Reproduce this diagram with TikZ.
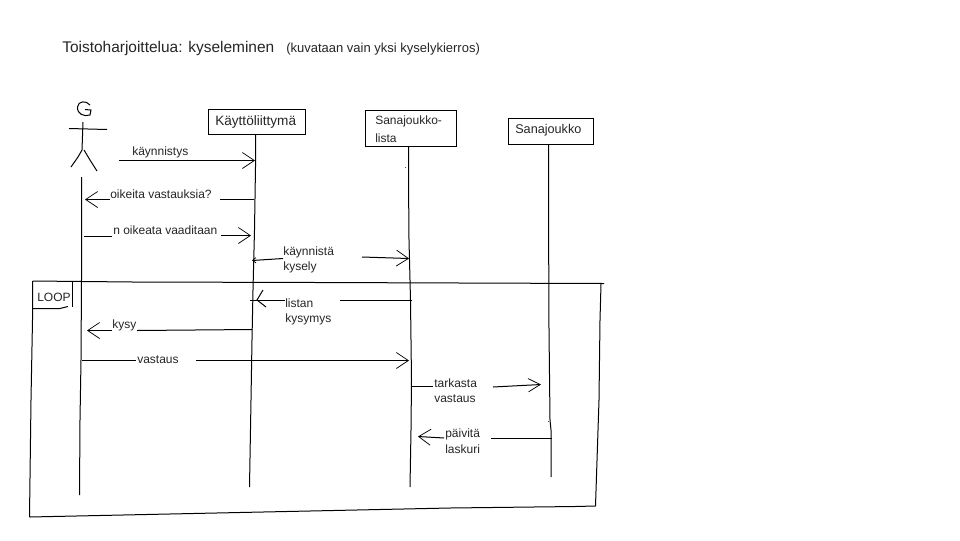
\documentclass[tikz,border=0pt]{standalone}
\usepackage{fontspec}
\setmainfont{Liberation Sans}
\usetikzlibrary{arrows.meta}
\tikzset{
  px/.style={x=0.75pt,y=-0.75pt},
  ink/.style={draw=black,line width=0.75pt},
  obj/.style={draw=black,line width=0.75pt,fill=white,inner sep=0pt,minimum height=0pt},
  lbl/.style={anchor=west,inner sep=0pt,font=\fontsize{9}{10.8}\selectfont,text=black!85},
  tip/.style={-{Straight Barb[length=9pt,width=12pt,line width=0.55pt]},ink},
  tipsmall/.style={-{Straight Barb[length=2.5pt,width=4pt,line width=0.55pt]},ink}
}
\begin{document}
\begin{tikzpicture}[px]
\useasboundingbox (0,0) rectangle (960,540);
\fill[white] (0,0) rectangle (960,540);
% title
\node[anchor=west,inner sep=0pt,font=\fontsize{11.6}{14}\selectfont,text=black!85] (title) at (62,48) {Toistoharjoittelua: kyseleminen};
\node[lbl,font=\fontsize{9.75}{11}\selectfont] (subtitle) at (286,49.5) {(kuvataan vain yksi kyselykierros)};
% objects
\node[obj,minimum width=72.75pt,minimum height=18.75pt] (ui) at (256.5,121.5) {};
\node[lbl,font=\fontsize{10.2}{12}\selectfont] (uit) at (215,121.5) {Käyttöliittymä};
\node[obj,minimum width=68.25pt,minimum height=27pt] (list) at (410.5,128) {};
\node[lbl] (listt1) at (375,121.5) {Sanajoukko-};
\node[lbl] (listt2) at (375,138) {lista};
\node[obj,minimum width=63.75pt,minimum height=19.5pt] (set) at (550.5,131) {};
\node[lbl,font=\fontsize{9.5}{11}\selectfont] (sett) at (515,130.5) {Sanajoukko};
% actor
\draw[ink] (90,105) .. controls (86,100) and (78,101) .. (77.5,107) .. controls (77,114) and (84,117) .. (90,115) -- (91,110) -- (85,109.5);
\coordinate (neck) at (83,122);
\coordinate (hip) at (82,150);
\draw[ink] (neck) -- (hip);
\draw[ink] (69,128.5) -- (107,129.5);
\draw[ink] (hip) -- (78,157) -- (71,167);
\draw[ink] (84,150) -- (90,160) -- (97,171);
% coordinates of lifelines
\coordinate (actortop) at (81.5,177);
\coordinate (actorbot) at (79.5,495);
\coordinate (uibot) at (249.5,487);
\coordinate (listbot) at (410,487);
\coordinate (setbot) at (551,477);
% lifelines
\draw[ink] (actortop) -- (81.5,280) -- (81,360) -- (80,420) -- (actorbot);
\draw[ink] (ui.south -| 255.5,0) -- (255.5,167) -- (254.5,230) -- (253,290) -- (252,340) -- (251,400) -- (uibot);
\draw[ink] (list.south -| 408.5,0) -- (408.5,178) -- (409,240) -- (410.5,300) -- (411.5,380) -- (411,430) -- (listbot);
\draw[ink] (set.south -| 548.5,0) -- (548.5,203) -- (549,330) -- (550,420) -- (551,430) -- (setbot);
% stray dots
\fill[black!70] (404.5,166.5) rectangle (405.5,167.5);
\fill[black!70] (547.5,420.5) rectangle (548.5,421.5);
% frame
\coordinate (fa) at (32.5,281);
\coordinate (fb) at (604,283.5);
\coordinate (fc) at (595.5,506);
\coordinate (fd) at (29.5,517);
\draw[ink] (fa) -- (133,282) -- (318,282.5) -- (fb);
\draw[ink] (601,284) -- (600,320) -- (599,400) -- (fc);
\draw[ink] (fc) -- (575,506.5) -- (450,508) -- (fd);
\draw[ink] (fa) -- (32.5,320) -- (31,400) -- (fd);
\draw[ink] (33,308.5) -- (60,308.5) -- (68,306.5);
\draw[ink] (72.5,282) -- (72.5,307);
\node[lbl] (loop) at (37,297.5) {LOOP};
% messages
\node[lbl] (m1) at (132,152) {käynnistys};
\draw[tip] (119,160.5) -- (255,160.5);
\node[lbl] (m2) at (110,194) {oikeita vastauksia?};
\draw[ink] (254,199.5) -- (220,199.5);
\draw[tip] (110,199.5) -- (85,199.5);
\node[lbl] (m3) at (113,230) {n oikeata vaaditaan};
\draw[ink] (84,236.5) -- (112,236.5);
\draw[tip] (221,235.5) -- (251,235.5);
\node[lbl] (m4a) at (283,252) {käynnistä};
\node[lbl] (m4b) at (283,267) {kysely};
\draw[tipsmall] (283,258.5) -- (252,260.5);
\draw[tip] (362,257) -- (409,258.5);
\node[lbl] (m5a) at (285,303.5) {listan};
\node[lbl] (m5b) at (285,319) {kysymys};
\draw[ink] (340,300.5) -- (412,300.5);
\draw[ink] (285,300.5) -- (250,300.5);
\draw[ink] (263,290) -- (257,300) -- (266,307);
\node[lbl] (m6) at (112,325) {kysy};
\draw[ink] (252,329.5) -- (137,330.5);
\draw[tip] (112,330.5) -- (87,330.5);
\node[lbl] (m7) at (137,359.5) {vastaus};
\draw[ink] (82,360.5) -- (136,360.5);
\draw[tip] (196,360.5) -- (409,360.5);
\node[lbl] (m8a) at (434,383.5) {tarkasta};
\node[lbl] (m8b) at (434,398.5) {vastaus};
\draw[ink] (412,386.5) -- (433,386.5);
\draw[-{Straight Barb[length=9pt,width=10pt,line width=0.55pt]},ink] (493,387) -- (541,384.5);
\node[lbl] (m9a) at (445,434) {päivitä};
\node[lbl] (m9b) at (445,449.5) {laskuri};
\draw[ink] (552,438.5) -- (491,438.5);
\draw[tip] (444,438) -- (418,436.5);
\end{tikzpicture}
\end{document}
